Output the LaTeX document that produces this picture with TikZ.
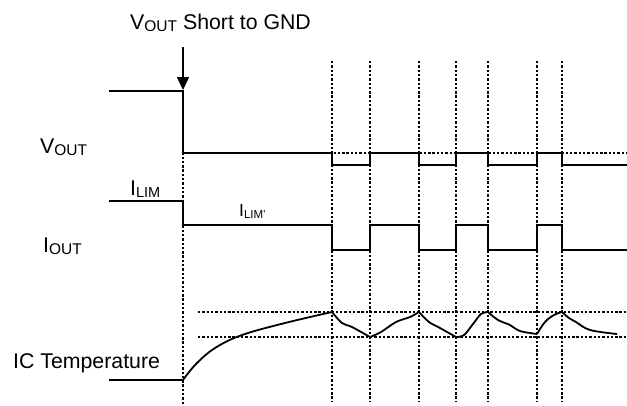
\documentclass[tikz,border=0pt]{standalone}
\usepackage{fontspec}
\setmainfont{Liberation Sans}
\usepackage{tikz}
\usetikzlibrary{arrows.meta}
\definecolor{ink}{HTML}{000000}
\newcommand{\subtxt}[2][15.5]{\raisebox{-0.22ex}{\fontsize{#1}{#1}\selectfont #2}}
\tikzset{
  trace/.style  = {draw=ink, line width=1.8pt},
  guide/.style  = {draw=ink, line width=1.7pt, dash pattern=on 2.4pt off 1.9pt},
  lbl/.style    = {inner sep=0pt, anchor=base west, font=\fontsize{21.3}{25}\selectfont},
  ar/.style     = {-{Triangle[length=13pt,width=12pt]}, draw=ink, line width=1.5pt},
}

\begin{document}
\begin{tikzpicture}[x=1pt, y=-1pt]
  \useasboundingbox (0,0) rectangle (627,405);

  % labels
  \node[lbl] (title) at (130,29) {V\subtxt{OUT} Short to GND};
  \node[lbl] (vout)  at (40,153) {V\subtxt{OUT}};
  \node[lbl] (ilim)  at (130,195) {I\subtxt[14.5]{LIM}};
  \node[lbl, font=\fontsize{17.5}{20}\selectfont] (ilimp) at (239,216) {I\subtxt[11.5]{LIM'}};
  \node[lbl] (iout)  at (43,252) {I\subtxt{OUT}};
  \node[lbl] (temp)  at (13,368) {IC Temperature};

  % short event
  \coordinate (evtop) at (183,47);
  \coordinate (evtip) at (183,90);
  \draw[ar] (evtop) -- (evtip);
  \draw[guide] (183,92) -- (183,405);

  % switching instants
  \foreach \x in {332,370,419,456,488,537,562}
    \draw[guide] (\x,61) -- (\x,402);

  % reference levels
  \draw[guide] (183,153) -- (627,153);
  \draw[guide] (198,312) -- (627,312);
  \draw[guide] (198,337) -- (627,337);

  % V_OUT
  \draw[trace] (109,91) -- (183,91) -- (183,153) -- (332,153) -- (332,165)
    -- (370,165) -- (370,153) -- (419,153) -- (419,165) -- (456,165)
    -- (456,153) -- (488,153) -- (488,165) -- (537,165) -- (537,153)
    -- (562,153) -- (562,165) -- (627,165);

  % I_OUT
  \draw[trace] (109,201) -- (183,201) -- (183,225) -- (332,225) -- (332,250)
    -- (370,250) -- (370,225) -- (419,225) -- (419,250) -- (456,250)
    -- (456,225) -- (488,225) -- (488,250) -- (537,250) -- (537,225)
    -- (562,225) -- (562,250) -- (627,250);

  % IC temperature
  \draw[trace] (109,380) -- (183,380);
  \draw[trace] plot[smooth, tension=0.6] coordinates
    {(183,380) (196,364) (215,348) (242,335) (285,323) (332,312)};
  \draw[trace] plot[smooth, tension=0.6] coordinates
    {(332,312) (342,323) (352,327) (370,337)};
  \draw[trace] plot[smooth, tension=0.6] coordinates
    {(370,337) (381,332) (396,322) (410,317) (419,312)};
  \draw[trace] plot[smooth, tension=0.6] coordinates
    {(419,312) (429,322) (440,328) (456,337)};
  \draw[trace] plot[smooth, tension=0.6] coordinates
    {(456,337) (464,335) (473,324) (481,314) (488,312)};
  \draw[trace] plot[smooth, tension=0.6] coordinates
    {(488,312) (498,320) (510,325) (520,331) (537,334)};
  \draw[trace] plot[smooth, tension=0.6] coordinates
    {(537,334) (545,322) (554,315) (562,312)};
  \draw[trace] plot[smooth, tension=0.6] coordinates
    {(562,312) (569,318) (576,322) (590,330) (617,334)};

\end{tikzpicture}
\end{document}
